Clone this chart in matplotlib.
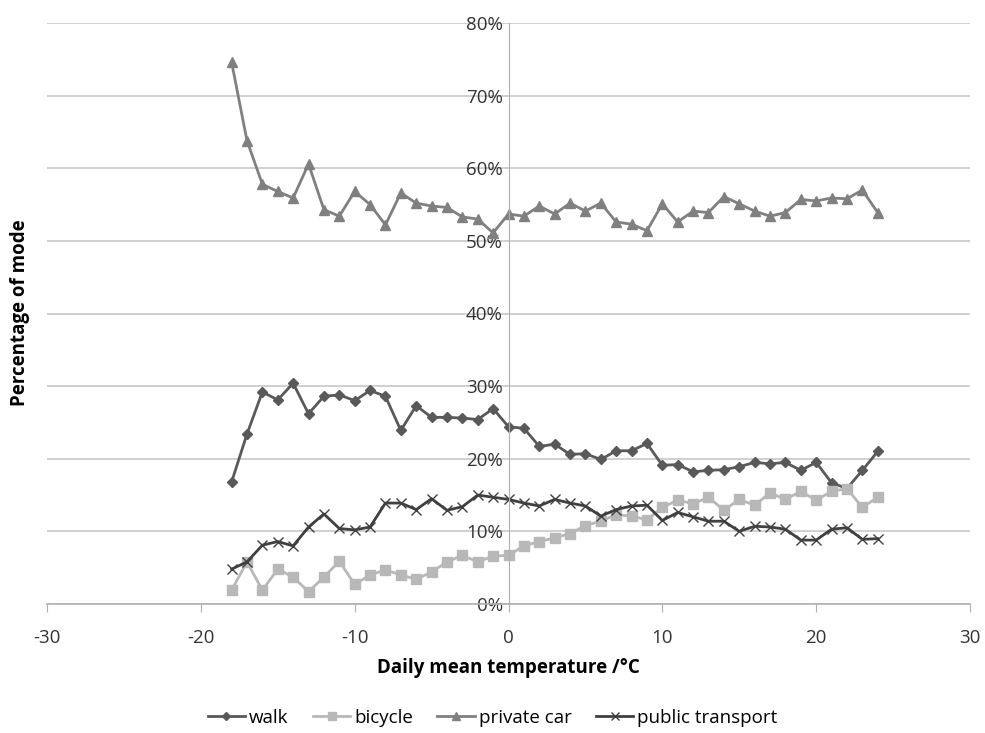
import matplotlib.pyplot as plt
import numpy as np

temps = np.arange(-18, 25)

walk = [16.8, 23.4, 29.2, 28.1, 30.4, 26.2, 28.6, 28.8, 28.0, 29.4,
        28.6, 23.9, 27.3, 25.7, 25.7, 25.6, 25.4, 26.9, 24.4,
        24.2, 21.7, 22.0, 20.6, 20.7, 19.9, 21.1, 21.1, 22.1, 19.1,
        19.2, 18.2, 18.4, 18.5, 18.9, 19.5, 19.3, 19.5, 18.4, 19.5,
        16.7, 15.9, 18.4, 21.0]
bicycle = [1.9, 5.8, 1.9, 4.8, 3.7, 1.7, 3.7, 5.9, 2.7, 4.0,
           4.7, 4.0, 3.4, 4.4, 5.8, 6.7, 5.8, 6.6, 6.7,
           8.0, 8.6, 9.1, 9.7, 10.8, 11.4, 12.3, 12.1, 11.6, 13.3,
           14.3, 13.8, 14.7, 12.9, 14.4, 13.6, 15.3, 14.4, 15.5, 14.3,
           15.5, 15.9, 13.3, 14.7]
private_car = [74.6, 63.8, 57.8, 56.8, 55.9, 60.6, 54.3, 53.4, 56.8, 55.0,
               52.2, 56.6, 55.2, 54.8, 54.6, 53.3, 53.0, 51.1, 53.7,
               53.4, 54.8, 53.7, 55.2, 54.1, 55.2, 52.6, 52.3, 51.4, 55.1,
               52.6, 54.1, 53.9, 56.1, 55.1, 54.1, 53.4, 53.9, 55.7, 55.5,
               55.9, 55.8, 57.0, 53.9]
public_transport = [4.8, 5.8, 8.1, 8.6, 8.0, 10.6, 12.4, 10.4, 10.2, 10.6,
                    13.9, 13.9, 13.0, 14.5, 12.9, 13.4, 15.0, 14.7, 14.4,
                    13.9, 13.5, 14.4, 13.9, 13.5, 12.1, 13.0, 13.5, 13.6, 11.5,
                    12.6, 12.0, 11.4, 11.4, 10.0, 10.7, 10.6, 10.3, 8.8, 8.8,
                    10.3, 10.5, 8.9, 9.0]

plt.rcParams['font.family'] = ['Open Sans', 'DejaVu Sans']
plt.rcParams['axes.unicode_minus'] = False

fig = plt.figure(figsize=(9.85, 7.33), dpi=100)
ax = fig.add_axes([47 / 985, 1 - 604 / 733, 923 / 985, 581 / 733])

ax.plot(temps, walk, color='#595959', marker='D', markersize=5, lw=2, label='walk')
ax.plot(temps, bicycle, color='#b8b8b8', marker='s', markersize=7, lw=2, label='bicycle')
ax.plot(temps, private_car, color='#808080', marker='^', markersize=7, lw=2, label='private car')
ax.plot(temps, public_transport, color='#404040', marker='x', markersize=7, mew=1,
        lw=2, label='public transport')

ax.set_xlim(-30, 30)
ax.set_ylim(0, 80)
ax.set_xticks(range(-30, 31, 10))
ax.set_yticks(range(0, 81, 10))
ax.set_yticklabels([f'{v}%' for v in range(0, 81, 10)])
ax.grid(axis='y', color='#c8c8c8', lw=1.2)
ax.set_axisbelow(True)

for s in ['top', 'right']:
    ax.spines[s].set_visible(False)
ax.spines['left'].set_position(('data', 0))
ax.spines['left'].set_color('#b0b0b0')
ax.spines['bottom'].set_color('#b0b0b0')
ax.spines['bottom'].set_linewidth(1.2)
ax.tick_params(axis='y', length=0, labelsize=13.5, colors='#333333', pad=4)
ax.tick_params(axis='x', length=6, color='#b0b0b0', labelsize=13.5,
               labelcolor='#333333', pad=12)

ax.set_xlabel('Daily mean temperature /°C', fontsize=13.5, fontweight='bold', labelpad=8)
fig.text(20 / 985, 1 - 313 / 733, 'Percentage of mode', rotation=90, fontsize=13.5,
         fontweight='bold', ha='center', va='center')

fig.legend(loc='center', bbox_to_anchor=(0.5, 1 - 718 / 733), ncol=4, frameon=False,
           fontsize=13.5, handlelength=2.0, columnspacing=1.3, handletextpad=0.2,
           markerscale=0.8)

fig.savefig('out.png', dpi=100)
